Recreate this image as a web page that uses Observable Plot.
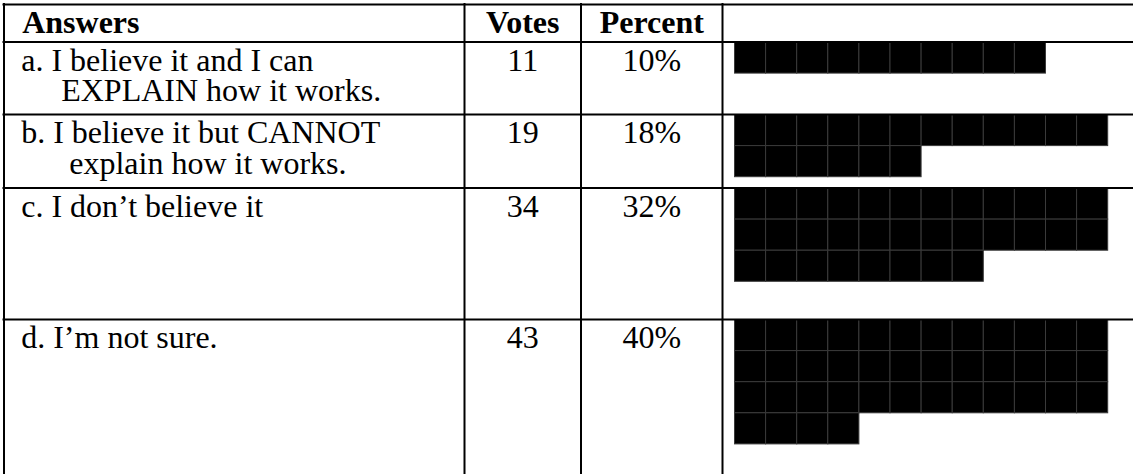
<!DOCTYPE html>
<html>
<head>
<meta charset="utf-8">
<script src="https://cdn.jsdelivr.net/npm/d3@7"></script>
<script src="https://cdn.jsdelivr.net/npm/@observablehq/plot@0.6"></script>
<style>
  html, body { margin: 0; padding: 0; background: #fff; }
  svg { display: block; }
</style>
</head>
<body>
<div id="chart"></div>
<script>
// ---- data ----
const headers = ["Answers", "Votes", "Percent"];
const answerLines = [
  ["a. I believe it and I can", "     EXPLAIN how it works."],
  ["b. I believe it but CANNOT", "      explain how it works."],
  ["c. I don\u2019t believe it"],
  ["d. I\u2019m not sure."]
];
const votes = [11, 19, 34, 43];
const percents = [10, 18, 32, 40];

// ---- layout ----
const W = 1133, H = 474;
const FS = 32, LH = 31;
const FONT = "'Liberation Serif', 'Times New Roman', serif";
const headTop = 4;
const rowTops = [41.5, 114, 187.5, 319];
const colLines = [3.5, 464, 580.5, 722];
const textX = 20.7;
const votesX = (colLines[1] + colLines[2]) / 2;
const pctX = (colLines[2] + colLines[3]) / 2;
const baseOff = 28.5;
const topY = t => t + baseOff - 0.71 * LH;
const SQ = 31.1, SQX0 = 734.5, PER_ROW = 12;

const nb = s => s.replace(/ /g, "\u00a0");

const rows = answerLines.map((lines, i) => ({
  text: lines.map(nb).join("\n"),
  votes: String(votes[i]),
  pct: percents[i] + "%",
  top: rowTops[i]
}));

const squares = [];
percents.forEach((p, i) => {
  for (let k = 0; k < p; k++) {
    const c = k % PER_ROW, r = Math.floor(k / PER_ROW);
    squares.push({
      x1: SQX0 + c * SQ, x2: SQX0 + (c + 1) * SQ,
      y1: rowTops[i] + 0.5 + r * SQ, y2: rowTops[i] + 0.5 + (r + 1) * SQ
    });
  }
});

const hLines = [headTop, ...rowTops];
const common = {lineAnchor: "top", lineHeight: LH / FS, fontSize: FS, fill: "#000"};

const chart = Plot.plot({
  width: W, height: H,
  margin: 0,
  x: {domain: [0, W], range: [0, W], axis: null},
  y: {domain: [0, H], range: [0, H], axis: null},
  style: {fontFamily: FONT, background: "#fff"},
  marks: [
    Plot.rect(squares, {x1: "x1", x2: "x2", y1: "y1", y2: "y2", fill: "#000", stroke: "#3a3a3a", strokeWidth: 1}),
    Plot.ruleY(hLines, {y: d => d, x1: 2.5, x2: W, stroke: "#000", strokeWidth: 2}),
    Plot.ruleX(colLines, {x: d => d, y1: 3, y2: H, stroke: "#000", strokeWidth: 2}),
    // header
    Plot.text([headers[0]], {...common, x: textX + 1, y: topY(headTop), text: d => d, textAnchor: "start", fontWeight: "bold"}),
    Plot.text([headers[1]], {...common, x: votesX, y: topY(headTop), text: d => d, textAnchor: "middle", fontWeight: "bold"}),
    Plot.text([headers[2]], {...common, x: pctX, y: topY(headTop), text: d => d, textAnchor: "middle", fontWeight: "bold"}),
    // rows
    Plot.text(rows, {...common, x: textX, y: d => topY(d.top), text: "text", textAnchor: "start"}),
    Plot.text(rows, {...common, x: votesX, y: d => topY(d.top), text: "votes", textAnchor: "middle"}),
    Plot.text(rows, {...common, x: pctX, y: d => topY(d.top), text: "pct", textAnchor: "middle"})
  ]
});
document.getElementById("chart").appendChild(chart);
</script>
</body>
</html>
